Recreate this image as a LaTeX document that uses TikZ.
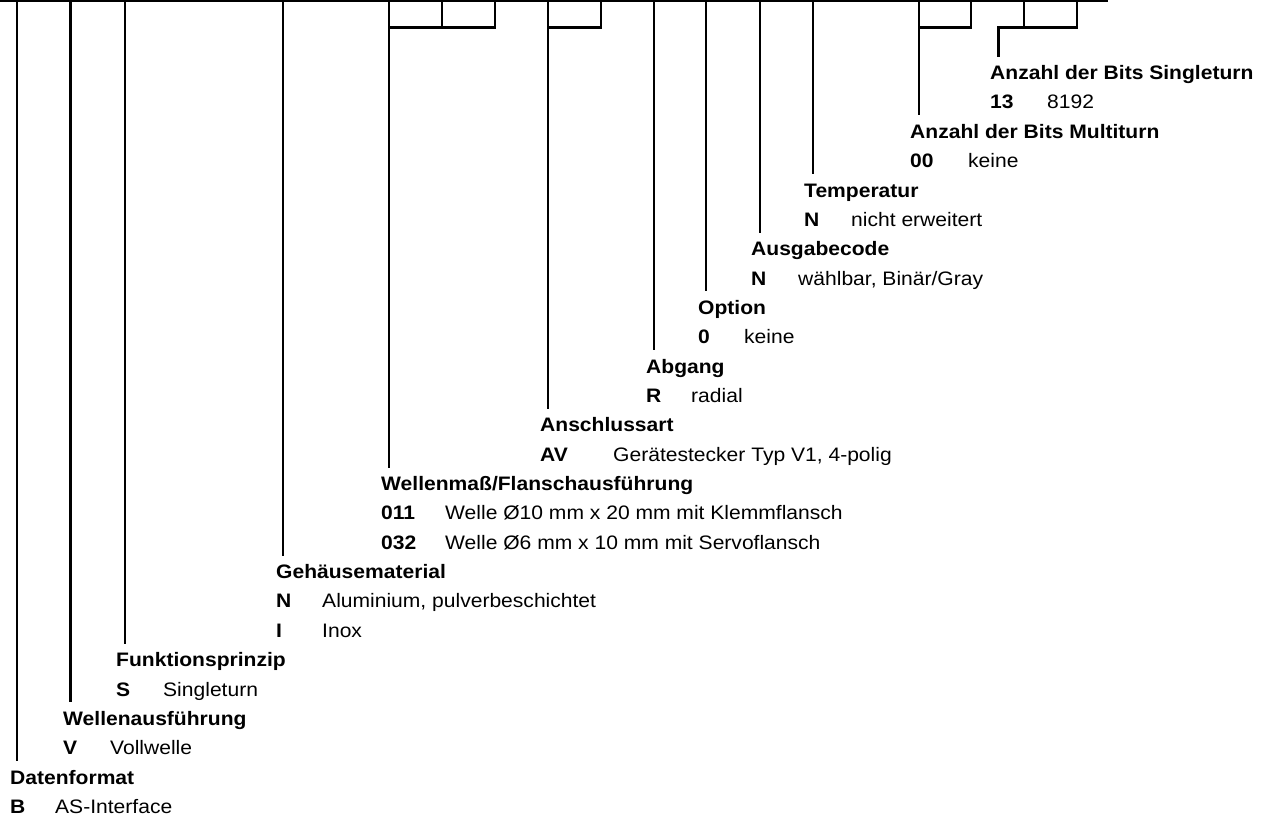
\documentclass[tikz,border=0pt]{standalone}
\usepackage{fontspec}
\setmainfont{Liberation Sans}[FakeStretch=1.08]
\begin{document}
\begin{tikzpicture}[x=1pt,y=-1pt,
  hd/.style={anchor=base west,inner sep=0pt,font=\fontsize{19.5}{22}\selectfont\bfseries},
  cd/.style={anchor=base west,inner sep=0pt,font=\fontsize{19.5}{22}\selectfont\bfseries},
  ds/.style={anchor=base west,inner sep=0pt,font=\fontsize{19.5}{22}\selectfont},
  ln/.style={line width=2.2pt,line cap=butt,line join=miter}]
\useasboundingbox (0,0) rectangle (1271,821);

% ---------- texts ----------
\node[hd] (hst) at (990,79.6) {Anzahl der Bits Singleturn};
\node[cd] (cst) at (990,109) {13};
\node[ds] (dst) at (1047,109) {8192};

\node[hd] (hmt) at (910,138.3) {Anzahl der Bits Multiturn};
\node[cd] (cmt) at (910,167.7) {00};
\node[ds] (dmt) at (968,167.7) {keine};

\node[hd] (htp) at (804,197) {Temperatur};
\node[cd] (ctp) at (804,226.4) {N};
\node[ds] (dtp) at (851,226.4) {nicht erweitert};

\node[hd] (hac) at (751,255.7) {Ausgabecode};
\node[cd] (cac) at (751,285) {N};
\node[ds] (dac) at (798,285) {wählbar, Binär/Gray};

\node[hd] (hop) at (698,314.4) {Option};
\node[cd] (cop) at (698,343.8) {0};
\node[ds] (dop) at (744,343.8) {keine};

\node[hd] (hab) at (646,373.1) {Abgang};
\node[cd] (cab) at (646,402.5) {R};
\node[ds] (dab) at (691,402.5) {radial};

\node[hd] (han) at (540,431.8) {Anschlussart};
\node[cd] (can) at (540,461.2) {AV};
\node[ds] (dan) at (613,461.2) {Gerätestecker Typ V1, 4-polig};

\node[hd] (hwm) at (381,490.5) {Wellenmaß/Flanschausführung};
\node[cd] (cwa) at (381,519.9) {011};
\node[ds] (dwa) at (445,519.9) {Welle Ø10 mm x 20 mm mit Klemmflansch};
\node[cd] (cwb) at (381,549.2) {032};
\node[ds] (dwb) at (445,549.2) {Welle Ø6 mm x 10 mm mit Servoflansch};

\node[hd] (hgm) at (276,578.6) {Gehäusematerial};
\node[cd] (cga) at (276,607.9) {N};
\node[ds] (dga) at (322,607.9) {Aluminium, pulverbeschichtet};
\node[cd] (cgb) at (276,637.3) {I};
\node[ds] (dgb) at (322,637.3) {Inox};

\node[hd] (hfp) at (116,666.6) {Funktionsprinzip};
\node[cd] (cfp) at (116,696) {S};
\node[ds] (dfp) at (163,696) {Singleturn};

\node[hd] (hwa) at (63,725.3) {Wellenausführung};
\node[cd] (cwv) at (63,754.7) {V};
\node[ds] (dwv) at (110,754.7) {Vollwelle};

\node[hd] (hdf) at (10,784) {Datenformat};
\node[cd] (cdf) at (10,813.4) {B};
\node[ds] (ddf) at (55,813.4) {AS-Interface};

% ---------- coordinates ----------
\coordinate (L0) at (0,1);
\coordinate (L1) at (1108,1);

\coordinate (tdf) at (17,0);    \coordinate (edf) at (17,761);
\coordinate (twa) at (70.5,0);  \coordinate (ewa) at (70.5,702.3);
\coordinate (tfp) at (125,0);   \coordinate (efp) at (125,643.6);
\coordinate (tgm) at (283,0);   \coordinate (egm) at (283,555.6);

\coordinate (twm1) at (389,0); \coordinate (twm2) at (442,0); \coordinate (twm3) at (495,0);
\coordinate (bwm1) at (389,27.5); \coordinate (bwm2) at (442,27.5); \coordinate (bwm3) at (495,27.5);
\coordinate (ewm) at (389,467.5);

\coordinate (tan1) at (548,0); \coordinate (tan2) at (601,0);
\coordinate (ban1) at (548,27.5); \coordinate (ban2) at (601,27.5);
\coordinate (ean) at (548,408.8);

\coordinate (tab) at (654,0);  \coordinate (eab) at (654,350.1);
\coordinate (top) at (706,0);  \coordinate (eop) at (706,291.4);
\coordinate (tac) at (760,0);  \coordinate (eac) at (760,232.7);
\coordinate (ttp) at (813,0);  \coordinate (etp) at (813,174);

\coordinate (tmt1) at (919,0); \coordinate (tmt2) at (971,0);
\coordinate (bmt1) at (919,27.5); \coordinate (bmt2) at (971,27.5);
\coordinate (emt) at (919,115.3);

\coordinate (tst1) at (1024,0); \coordinate (tst2) at (1077,0);
\coordinate (bst1) at (1024,27.5); \coordinate (bst2) at (1077,27.5);
\coordinate (bst0) at (998.5,27.5);
\coordinate (est) at (998.5,56.6);

% ---------- lines ----------
\draw[ln] (L0) -- (L1);
\draw[ln] (tdf) -- (edf);
\draw[ln] (twa) -- (ewa);
\draw[ln] (tfp) -- (efp);
\draw[ln] (tgm) -- (egm);

\draw[ln] (twm1) -- (ewm);
\draw[ln] (bwm1) -- (bwm3) -- (twm3);
\draw[ln] (twm2) -- (bwm2);

\draw[ln] (tan1) -- (ean);
\draw[ln] (ban1) -- (ban2) -- (tan2);

\draw[ln] (tab) -- (eab);
\draw[ln] (top) -- (eop);
\draw[ln] (tac) -- (eac);
\draw[ln] (ttp) -- (etp);

\draw[ln] (tmt1) -- (emt);
\draw[ln] (bmt1) -- (bmt2) -- (tmt2);

\draw[ln] (est) -- (bst0) -- (bst2) -- (tst2);
\draw[ln] (tst1) -- (bst1);
\end{tikzpicture}
\end{document}
